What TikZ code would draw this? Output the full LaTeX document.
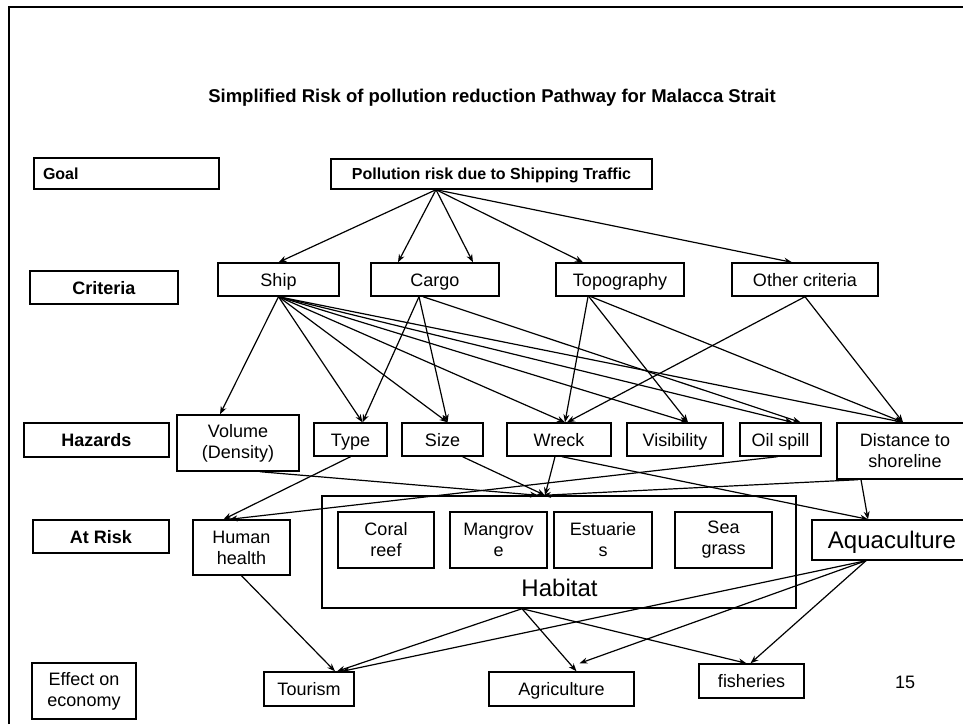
\documentclass[tikz,border=0pt]{standalone}
\usepackage{fontspec}
\setmainfont{Liberation Sans}
\usepackage{tikz}
\usetikzlibrary{arrows.meta}
\tikzset{
    % Base box style
    basenode/.style={
        draw=black,
        line width=1.4pt,
        inner sep=2pt,
        align=center,
        font=\fontsize{18}{21}\selectfont
    },
    % Single line box (capitals centred in every box)
    onelinenode/.style={
        basenode,
        text height=13pt,
        text depth=0pt
    },
    % Row label boxes on the left
    rowlabel/.style={
        onelinenode,
        font=\fontsize{18}{21}\selectfont\bfseries
    },
    % Box with large text
    bignode/.style={
        onelinenode,
        text height=17pt,
        font=\fontsize{24}{28}\selectfont
    },
    % Arrow style (straight lines only)
    myarrow/.style={
        ->,
        >={Stealth[length=8pt,width=6pt]},
        line width=1.2pt,
        draw=black
    }
}
\begin{document}
\begin{tikzpicture}[x=1pt, y=-1pt]
        \useasboundingbox (0,0) rectangle (963,724);
        % Frame
        \draw[line width=1.8pt] (9,724) -- (9,7) -- (963,7);

        % Title
        \node[font=\fontsize{18.5}{22}\selectfont\bfseries] (title) at (492,98) {Simplified Risk of pollution reduction Pathway for Malacca Strait};

        % Row labels
        \node[rowlabel, minimum width=185pt, minimum height=31pt, text width=167pt, inner xsep=9pt, align=left, text height=11.5pt, font=\fontsize{16}{19}\selectfont\bfseries] (goal) at (126.5,173.5) {Goal};
        \node[rowlabel, minimum width=148pt, minimum height=33pt] (critlbl) at (104,287.5) {Criteria};
        \node[rowlabel, minimum width=145pt, minimum height=34pt] (hazlbl) at (96.5,440) {Hazards};
        \node[rowlabel, minimum width=136pt, minimum height=33pt] (risklbl) at (101,536.5) {At Risk};
        \node[basenode, minimum width=104pt, minimum height=56pt] (econlbl) at (84,691) {Effect on\\economy};

        % Goal
        \node[onelinenode, minimum width=321pt, minimum height=30pt, text height=11.5pt, font=\fontsize{16}{19}\selectfont\bfseries] (risk) at (491.5,174) {Pollution risk due to Shipping Traffic};

        % Criteria
        \node[onelinenode, minimum width=121pt, minimum height=33pt] (ship) at (278.5,279.5) {Ship};
        \node[onelinenode, minimum width=128pt, minimum height=33pt] (cargo) at (435,279.5) {Cargo};
        \node[onelinenode, minimum width=128pt, minimum height=33pt] (topo) at (620,279.5) {Topography};
        \node[onelinenode, minimum width=146pt, minimum height=33pt] (other) at (805,279.5) {Other criteria};

        % Hazards
        \node[basenode, minimum width=122pt, minimum height=56pt] (volume) at (238,443) {Volume\\(Density)};
        \node[onelinenode, minimum width=73pt, minimum height=33pt] (type) at (350.5,439.5) {Type};
        \node[onelinenode, minimum width=81pt, minimum height=33pt] (size) at (442.5,439.5) {Size};
        \node[onelinenode, minimum width=104pt, minimum height=33pt] (wreck) at (559,439.5) {Wreck};
        \node[onelinenode, minimum width=96pt, minimum height=33pt] (visib) at (675,439.5) {Visibility};
        \node[onelinenode, minimum width=81pt, minimum height=33pt] (oil) at (780.5,439.5) {Oil spill};
        \node[basenode, minimum width=136pt, minimum height=56pt] (dist) at (905,451) {Distance to\\shoreline};

        % At risk
        \node[basenode, minimum width=97pt, minimum height=55pt] (human) at (241.5,547.5) {Human\\health};
        \node[basenode, minimum width=474pt, minimum height=112pt] (habitat) at (559,552) {};
        \node[font=\fontsize{24}{28}\selectfont] (habtext) at (559.5,588) {Habitat};
        \node[basenode, minimum width=96pt, minimum height=56pt] (coral) at (386,540) {Coral\\reef};
        \node[basenode, minimum width=97pt, minimum height=56pt] (mangrove) at (498.5,540) {Mangrov\\e};
        \node[basenode, minimum width=98pt, minimum height=56pt] (estuary) at (603,540) {Estuarie\\s};
        \node[basenode, minimum width=97pt, minimum height=56pt] (seagrass) at (723.5,540) {Sea\\grass};
        \node[bignode, minimum width=160pt, minimum height=40pt] (aqua) at (892,540) {Aquaculture};

        % Effect on economy
        \node[onelinenode, minimum width=90pt, minimum height=34pt] (tourism) at (309,689) {Tourism};
        \node[onelinenode, minimum width=145pt, minimum height=34pt] (agri) at (561.5,689) {Agriculture};
        \node[onelinenode, minimum width=105pt, minimum height=34pt] (fish) at (751.5,681) {fisheries};
        \node[font=\fontsize{18}{21}\selectfont] (pagenum) at (905,682) {15};

        % Goal to criteria
        \draw[myarrow] ([xshift=-55.5pt]risk.south) -- (ship.north);
        \draw[myarrow] ([xshift=-55.5pt]risk.south) -- ([xshift=-37pt]cargo.north);
        \draw[myarrow] ([xshift=-55.5pt]risk.south) -- ([xshift=38pt]cargo.north);
        \draw[myarrow] ([xshift=-55.5pt]risk.south) -- ([xshift=-37pt]topo.north);
        \draw[myarrow] ([xshift=-55.5pt]risk.south) -- ([xshift=-13pt]other.north);

        % Criteria to hazards
        \draw[myarrow] (ship.south) -- ([xshift=-18pt]volume.north);
        \draw[myarrow] (ship.south) -- ([xshift=12pt]type.north);
        \draw[myarrow] (ship.south) -- ([xshift=5pt]size.north);
        \draw[myarrow] (ship.south) -- ([xshift=6pt]wreck.north);
        \draw[myarrow] (ship.south) -- ([xshift=13pt]visib.north);
        \draw[myarrow] (ship.south) -- ([xshift=12pt]oil.north);
        \draw[myarrow] (ship.south) -- ([xshift=-2pt]dist.north);
        \draw[myarrow] ([xshift=-16pt]cargo.south) -- ([xshift=12pt]type.north);
        \draw[myarrow] ([xshift=-16pt]cargo.south) -- ([xshift=5pt]size.north);
        \draw[myarrow] ([xshift=-12pt]cargo.south) -- ([xshift=20pt]oil.north);
        \draw[myarrow] ([xshift=-32pt]topo.south) -- ([xshift=6pt]wreck.north);
        \draw[myarrow] ([xshift=-31pt]topo.south) -- ([xshift=13pt]visib.north);
        \draw[myarrow] ([xshift=-29pt]topo.south) -- ([xshift=-2pt]dist.north);
        \draw[myarrow] (other.south) -- ([xshift=8pt]wreck.north);
        \draw[myarrow] (other.south) -- ([xshift=-2pt]dist.north);

        % Hazards to at risk
        \draw[myarrow] ([xshift=22pt]volume.south) -- ([xshift=-21pt]habitat.north);
        \draw[myarrow] (type.south) -- ([xshift=-18pt]human.north);
        \draw[myarrow] ([xshift=20pt]size.south) -- ([xshift=-14pt]habitat.north);
        \draw[myarrow] ([xshift=-4pt]wreck.south) -- ([xshift=-14pt]habitat.north);
        \draw[myarrow] ([xshift=3pt]wreck.south) -- ([xshift=-24pt]aqua.north);
        \draw[myarrow] ([xshift=-3pt]oil.south) -- ([xshift=-12pt]human.north);
        \draw[myarrow] ([xshift=-47pt]dist.south) -- ([xshift=-16pt]habitat.north);
        \draw[myarrow] ([xshift=-44pt]dist.south) -- ([xshift=-24pt]aqua.north);

        % At risk to economy
        \draw[myarrow] (human.south) -- ([xshift=26pt]tourism.north);
        \draw[myarrow] ([xshift=-37pt]habitat.south) -- ([xshift=28pt]tourism.north);
        \draw[myarrow] ([xshift=-37pt]habitat.south) -- ([xshift=15pt]agri.north);
        \draw[myarrow] ([xshift=-37pt]habitat.south) -- ([xshift=-5pt]fish.north);
        \draw[myarrow] ([xshift=-26pt]aqua.south) -- ([xshift=33pt]tourism.north);
        \draw[myarrow] ([xshift=-26pt]aqua.south) -- ([xshift=18pt,yshift=8pt]agri.north);
        \draw[myarrow] ([xshift=-26pt]aqua.south) -- ([xshift=-1pt]fish.north);
    \end{tikzpicture}
\end{document}
